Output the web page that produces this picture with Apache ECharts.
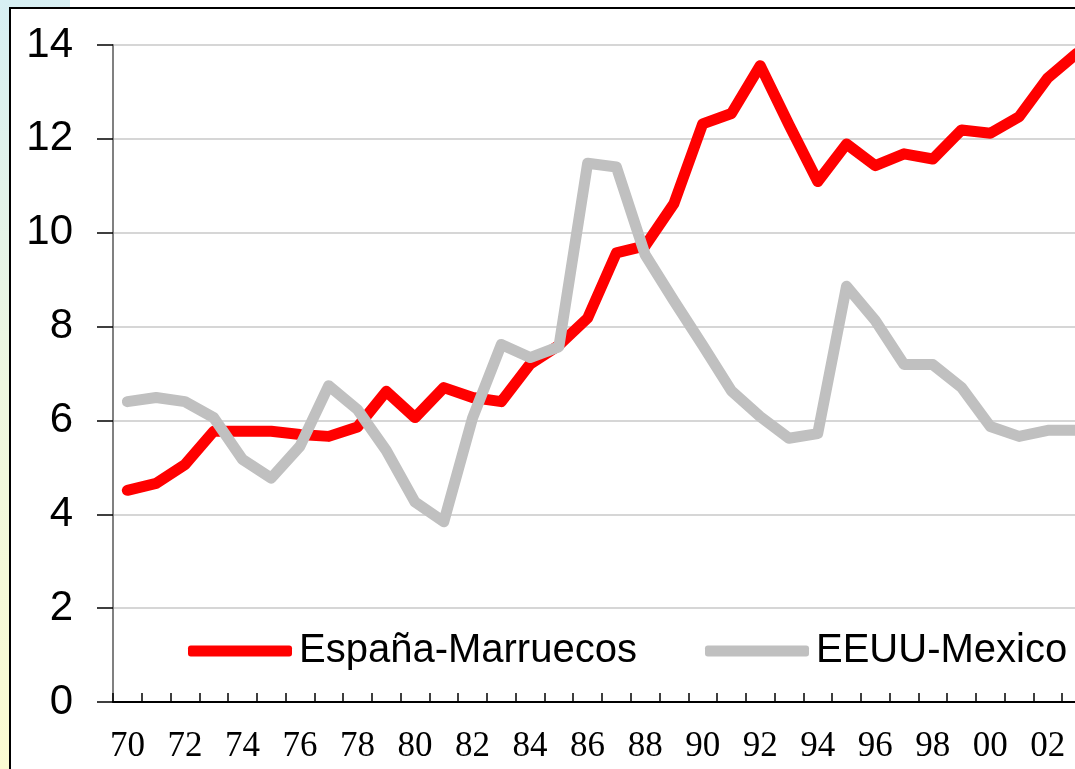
<!DOCTYPE html>
<html>
<head>
<meta charset="utf-8">
<script src="https://cdn.jsdelivr.net/npm/echarts@6/dist/echarts.min.js"></script>
<style>
html,body{margin:0;padding:0;background:#fff;overflow:hidden;width:1075px;height:769px;}
#c{width:1091px;height:769px;}
</style>
</head>
<body>
<div id="c"></div>
<script>
var years = ['70','71','72','73','74','75','76','77','78','79','80','81','82','83','84','85','86','87','88','89','90','91','92','93','94','95','96','97','98','99','00','01','02','03'];
var espanaMarruecos = [4.51,4.66,5.06,5.77,5.77,5.77,5.70,5.66,5.86,6.62,6.06,6.70,6.49,6.40,7.20,7.60,8.18,9.57,9.72,10.62,12.32,12.54,13.56,12.30,11.09,11.89,11.43,11.68,11.57,12.19,12.12,12.47,13.30,13.82];
var eeuuMexico = [6.40,6.49,6.40,6.06,5.17,4.77,5.45,6.74,6.23,5.36,4.26,3.84,6.05,7.62,7.34,7.57,11.48,11.40,9.53,8.55,7.60,6.63,6.08,5.62,5.72,8.86,8.13,7.19,7.19,6.70,5.87,5.66,5.79,5.79];
var seriesNames = ['España-Marruecos','EEUU-Mexico'];
var yTicks = {min:0, max:14, interval:2};

var chart = echarts.init(document.getElementById('c'), null, {renderer:'canvas'});
chart.setOption({
  animation:false,
  backgroundColor:{type:'linear',x:0,y:0,x2:0,y2:1,colorStops:[{offset:0,color:'#d7eff3'},{offset:0.5,color:'#eef7e0'},{offset:1,color:'#fbfbd2'}]},
  graphic:[
    {type:'rect',z:-100,shape:{x:70,y:0,width:1100,height:9},style:{fill:'#ffffff'}},
    {type:'rect',z:-99,shape:{x:10,y:8,width:1200,height:900},style:{fill:'#ffffff',stroke:'#000000',lineWidth:2}}
  ],
  grid:{left:113,right:0,top:45,bottom:67,containLabel:false},
  legend:[
    {data:[seriesNames[0]],left:188,top:631,padding:0,icon:'roundRect',itemWidth:104,itemHeight:11,
     textStyle:{fontFamily:'Liberation Sans, Arial',fontSize:40,color:'#000',padding:[0,0,0,2]}},
    {data:[seriesNames[1]],left:705,top:631,padding:0,icon:'roundRect',itemWidth:104,itemHeight:11,
     textStyle:{fontFamily:'Liberation Sans, Arial',fontSize:40,color:'#000',padding:[0,0,0,2]}}
  ],
  xAxis:{
    type:'category',data:years,boundaryGap:true,
    axisLine:{show:true,lineStyle:{color:'#000',width:2}},
    axisTick:{show:true,inside:true,alignWithLabel:false,length:9,interval:0,lineStyle:{color:'#000',width:1.5}},
    axisLabel:{interval:1,margin:27,fontFamily:'Liberation Serif, Times New Roman',fontSize:35,color:'#000'},
    splitLine:{show:false}
  },
  yAxis:{
    type:'value',min:yTicks.min,max:yTicks.max,interval:yTicks.interval,
    axisLine:{show:true,lineStyle:{color:'#808080',width:2}},
    axisTick:{show:true,length:16,lineStyle:{color:'#000',width:1.5}},
    axisLabel:{margin:40,fontFamily:'Liberation Sans, Arial',fontSize:42,color:'#000'},
    splitLine:{lineStyle:{color:'#c8c8c8',width:1.5}}
  },
  series:[
    {name:seriesNames[0],type:'line',data:espanaMarruecos,symbol:'none',
     itemStyle:{color:'#ff0000'},lineStyle:{color:'#ff0000',width:11,join:'round',cap:'round'}},
    {name:seriesNames[1],type:'line',data:eeuuMexico,symbol:'none',
     itemStyle:{color:'#c0c0c0'},lineStyle:{color:'#c0c0c0',width:11,join:'round',cap:'round'}}
  ]
});
</script>
</body>
</html>
